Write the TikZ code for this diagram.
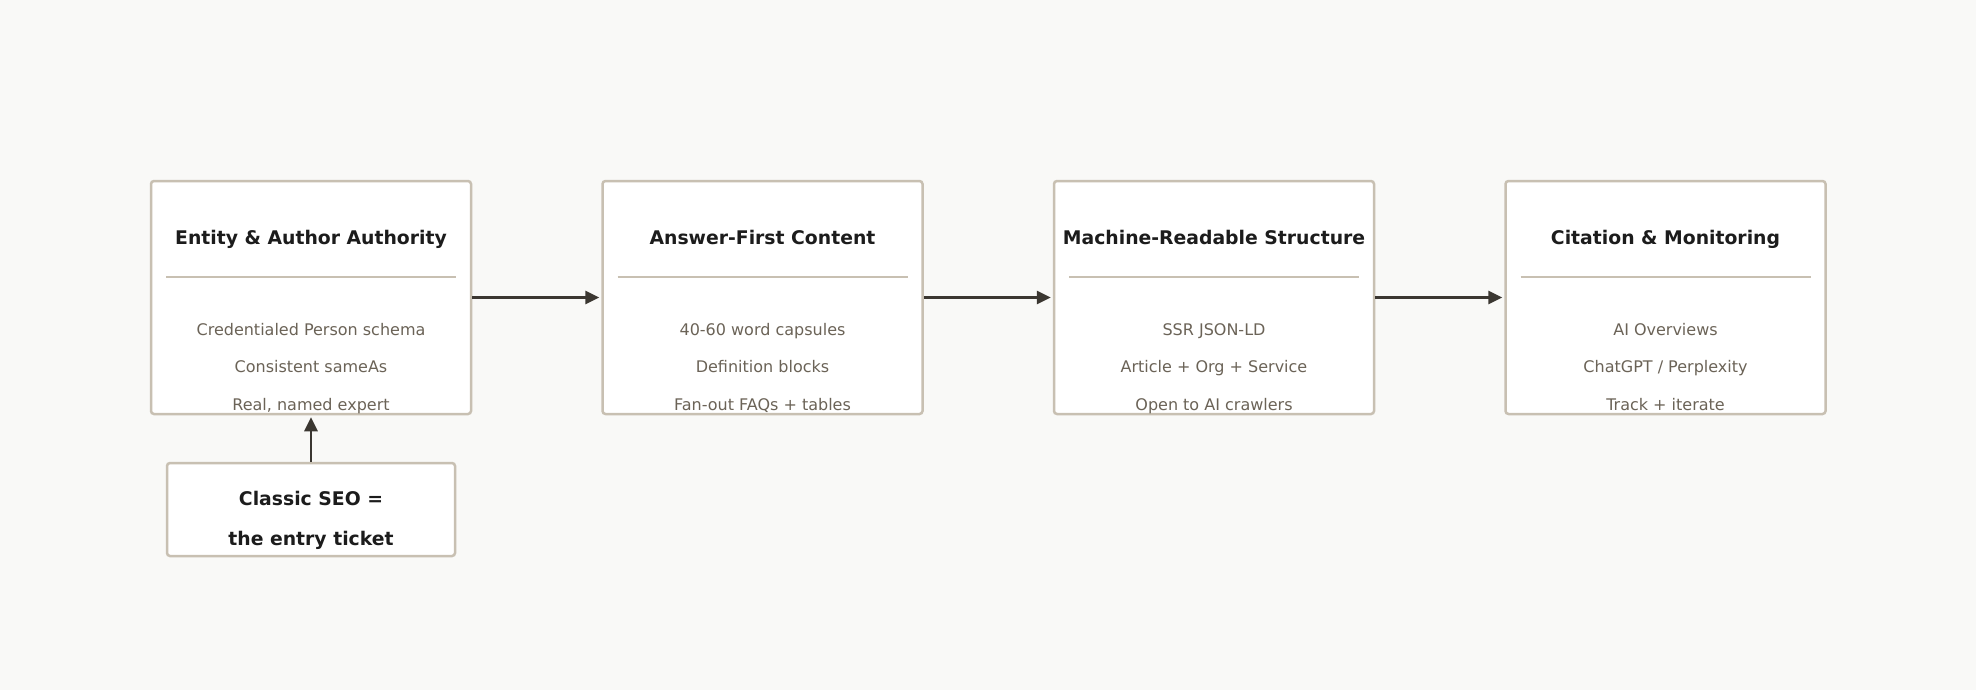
\documentclass[tikz,border=0pt]{standalone}
\usepackage{fontspec}
\setmainfont{DejaVu Sans}
\usepackage{tikz}
\usetikzlibrary{arrows.meta,calc}

\definecolor{bgpaper}{HTML}{F9F9F7}
\definecolor{cardline}{HTML}{C8C0B2}
\definecolor{headink}{HTML}{1C1C1C}
\definecolor{bodyink}{HTML}{6B6357}
\definecolor{flowink}{HTML}{3B3731}

\tikzset{
  card/.style={draw=cardline, line width=1.25pt, fill=white, rounded corners=1.5pt,
    minimum width=160pt, minimum height=116.5pt, inner sep=0pt},
  ticket/.style={card, minimum width=144pt, minimum height=46.5pt},
  head/.style={text=headink, font=\fontsize{9.4}{11}\selectfont\bfseries, inner sep=0pt, anchor=base},
  body/.style={text=bodyink, font=\fontsize{8}{10}\selectfont, inner sep=0pt, anchor=base},
  rule/.style={draw=cardline, line width=0.75pt},
  flow/.style={draw=flowink, line width=1.3pt, -{Triangle[length=7pt,width=6.5pt]}, shorten >=1pt}
}

\begin{document}
\begin{tikzpicture}[x=0.5pt,y=-0.5pt]
  % fond de page
  \fill[bgpaper] (0,0) rectangle (1976,690);
  \useasboundingbox (0,0) rectangle (1976,690);

  % quatre cartes
  \node[card] (entity) at (311,297.5) {};
  \node[card] (answer) at (762.5,297.5) {};
  \node[card] (machine) at (1214,297.5) {};
  \node[card] (citation) at (1665.5,297.5) {};

  % carte 1
  \node[head] (entity-t) at (311,244) {Entity \& Author Authority};
  \draw[rule] ($(entity.north)+(-145,97)$) -- ($(entity.north)+(145,97)$);
  \node[body] (entity-a) at (311,335) {Credentialed Person schema};
  \node[body] (entity-b) at (311,372.5) {Consistent sameAs};
  \node[body] (entity-c) at (311,410) {Real, named expert};

  % carte 2
  \node[head] (answer-t) at (762.5,244) {Answer-First Content};
  \draw[rule] ($(answer.north)+(-145,97)$) -- ($(answer.north)+(145,97)$);
  \node[body] (answer-a) at (762.5,335) {40-60 word capsules};
  \node[body] (answer-b) at (762.5,372.5) {Definition blocks};
  \node[body] (answer-c) at (762.5,410) {Fan-out FAQs + tables};

  % carte 3
  \node[head] (machine-t) at (1214,244) {Machine-Readable Structure};
  \draw[rule] ($(machine.north)+(-145,97)$) -- ($(machine.north)+(145,97)$);
  \node[body] (machine-a) at (1214,335) {SSR JSON-LD};
  \node[body] (machine-b) at (1214,372.5) {Article + Org + Service};
  \node[body] (machine-c) at (1214,410) {Open to AI crawlers};

  % carte 4
  \node[head] (citation-t) at (1665.5,244) {Citation \& Monitoring};
  \draw[rule] ($(citation.north)+(-145,97)$) -- ($(citation.north)+(145,97)$);
  \node[body] (citation-a) at (1665.5,335) {AI Overviews};
  \node[body] (citation-b) at (1665.5,372.5) {ChatGPT / Perplexity};
  \node[body] (citation-c) at (1665.5,410) {Track + iterate};

  % ticket d'entrée
  \node[ticket] (seo) at (311,509.5) {};
  \node[head] (seo-a) at (311,505) {Classic SEO =};
  \node[head] (seo-b) at (311,545) {the entry ticket};

  % flèches
  \draw[flow] (entity.east) -- (answer.west);
  \draw[flow] (answer.east) -- (machine.west);
  \draw[flow] (machine.east) -- (citation.west);
  \draw[flow] (seo.north) -- (entity.south);
\end{tikzpicture}
\end{document}
